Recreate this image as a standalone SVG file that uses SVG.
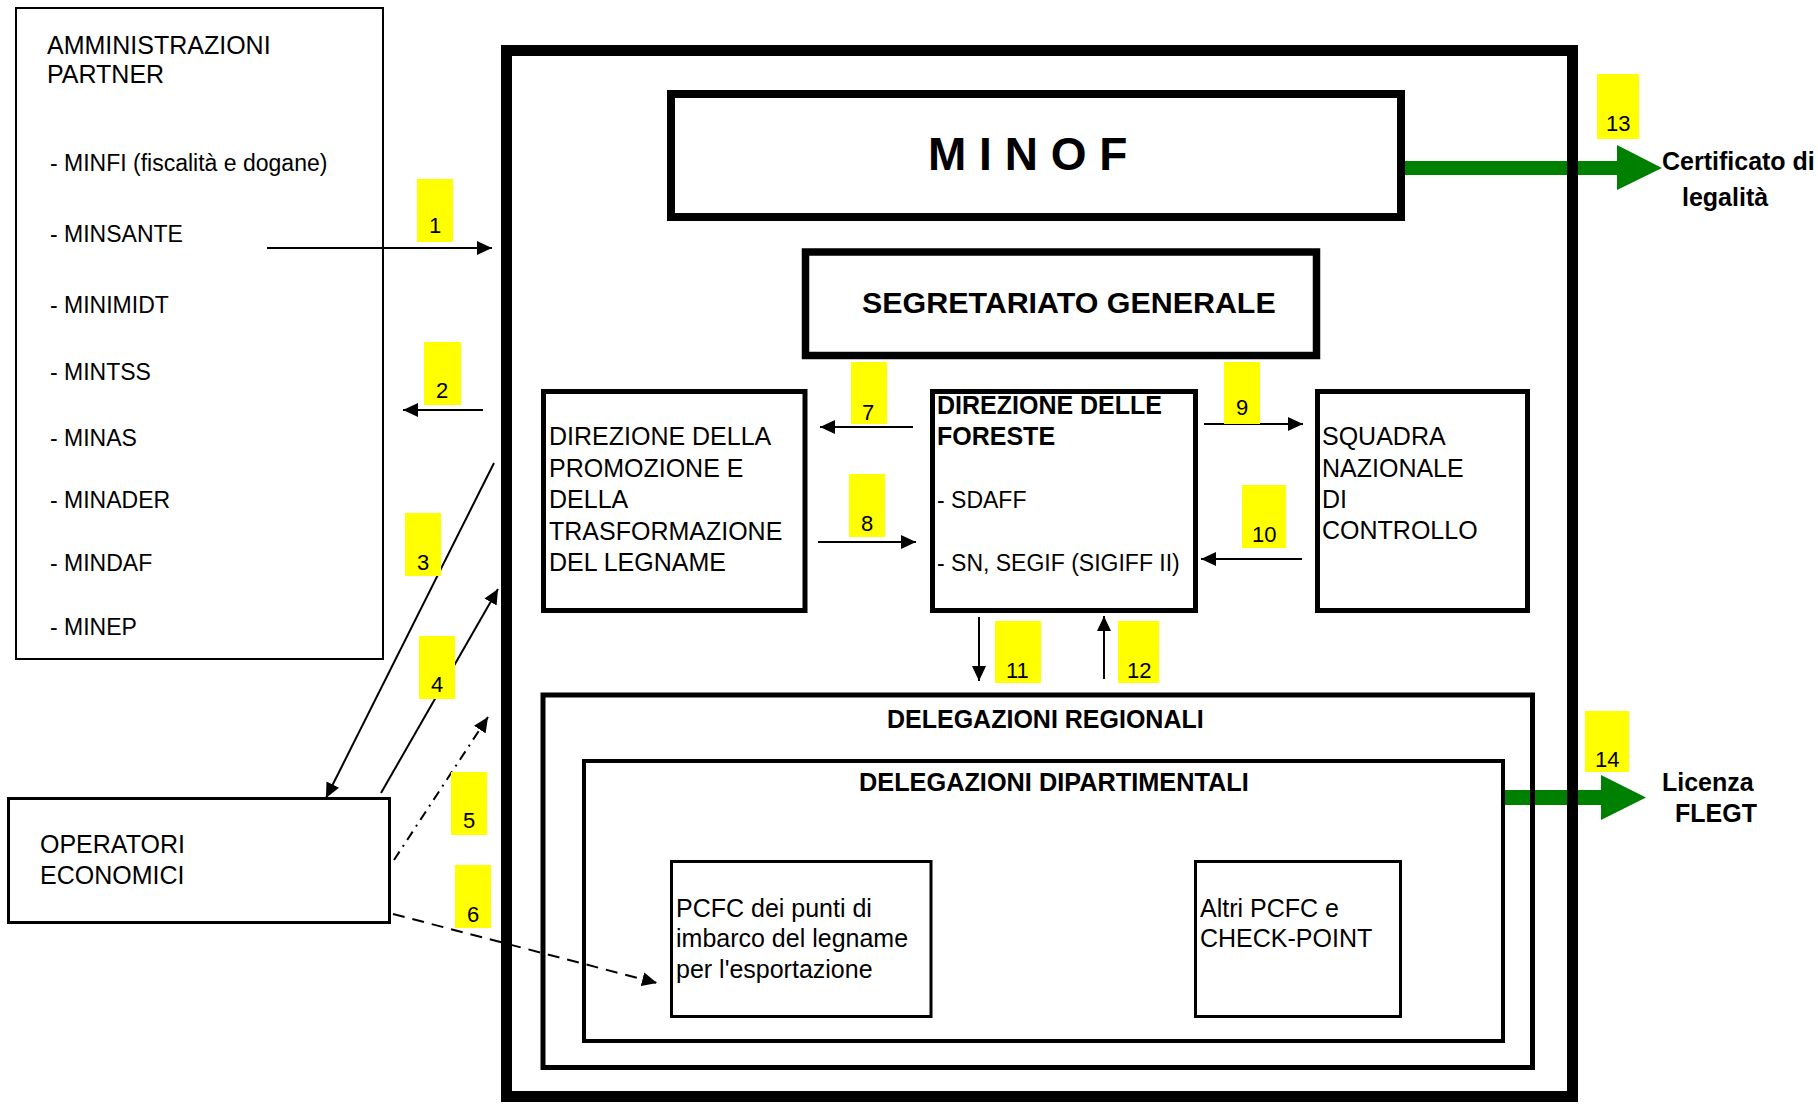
<svg xmlns="http://www.w3.org/2000/svg" width="1818" height="1105" viewBox="0 0 1818 1105">
<defs>
<style>
text{font-family:"Liberation Sans",Arial,sans-serif;fill:#000;}
.t{font-size:25px;}
.s{font-size:23px;}
.b{font-size:25px;font-weight:bold;}
.n{font-size:22px;}
.ln{stroke:#000;stroke-width:2;fill:none;}
.box{fill:none;stroke:#000;}
.lab{fill:#ffff00;}
.green{fill:#008000;}
</style>
<marker id="ah" markerUnits="userSpaceOnUse" markerWidth="15" markerHeight="14" refX="15" refY="7" orient="auto">
<path d="M0,0 L15,7 L0,14 z" fill="#000"/>
</marker>
</defs>
<rect x="0" y="0" width="1818" height="1105" fill="#fff"/>

<g id="connectors">
<path class="green" d="M1405,161 H1617 V145 L1662,168 L1617,190 V175 H1405 z"/>
<path class="green" d="M1503,790 H1601 V775 L1646,797.5 L1601,820 V805 H1503 z"/>
<line class="ln" x1="267" y1="248" x2="492" y2="248" marker-end="url(#ah)"/>
<line class="ln" x1="483" y1="410" x2="403" y2="410" marker-end="url(#ah)"/>
<line class="ln" x1="494" y1="463" x2="326" y2="798" marker-end="url(#ah)"/>
<line class="ln" x1="381" y1="793" x2="498" y2="589" marker-end="url(#ah)"/>
<line class="ln" x1="394" y1="860" x2="488" y2="717" stroke-dasharray="10,6,2,6" marker-end="url(#ah)"/>
<line class="ln" x1="393" y1="914" x2="657" y2="983" stroke-dasharray="12,8" marker-end="url(#ah)"/>
<line class="ln" x1="913" y1="427" x2="820" y2="427" marker-end="url(#ah)"/>
<line class="ln" x1="818" y1="542" x2="916" y2="542" marker-end="url(#ah)"/>
<line class="ln" x1="1204" y1="424" x2="1303" y2="424" marker-end="url(#ah)"/>
<line class="ln" x1="1302" y1="559" x2="1201" y2="559" marker-end="url(#ah)"/>
<line class="ln" x1="979" y1="617" x2="979" y2="681" marker-end="url(#ah)"/>
<line class="ln" x1="1104" y1="679" x2="1104" y2="616" marker-end="url(#ah)"/>
<g id="labels">
<rect class="lab" x="417" y="179" width="36" height="63"/><text class="n" x="429" y="233">1</text>
<rect class="lab" x="424" y="342" width="37" height="63"/><text class="n" x="436" y="398">2</text>
<rect class="lab" x="405" y="513" width="36" height="63"/><text class="n" x="417" y="570">3</text>
<rect class="lab" x="419" y="636" width="36" height="63"/><text class="n" x="431" y="692">4</text>
<rect class="lab" x="451" y="772" width="36" height="63"/><text class="n" x="463" y="828">5</text>
<rect class="lab" x="455" y="865" width="36" height="63"/><text class="n" x="467" y="922">6</text>
<rect class="lab" x="851" y="362" width="36" height="62"/><text class="n" x="862" y="420">7</text>
<rect class="lab" x="849" y="474" width="36" height="63"/><text class="n" x="861" y="531">8</text>
<rect class="lab" x="1224" y="362" width="36" height="62"/><text class="n" x="1236" y="415">9</text>
<rect class="lab" x="1242" y="485" width="44" height="63"/><text class="n" x="1252" y="542">10</text>
<rect class="lab" x="995" y="621" width="46" height="62"/><text class="n" x="1006" y="678">11</text>
<rect class="lab" x="1118" y="621" width="41" height="62"/><text class="n" x="1127" y="678">12</text>
<rect class="lab" x="1597" y="74" width="42" height="65"/><text class="n" x="1606" y="131">13</text>
<rect class="lab" x="1585" y="711" width="44" height="61"/><text class="n" x="1595" y="767">14</text>
</g>
</g>

<g id="amministrazioni">
<rect class="box" x="16" y="8" width="367" height="651" stroke-width="2"/>
<text class="t" x="47" y="54">AMMINISTRAZIONI</text>
<text class="t" x="47" y="83">PARTNER</text>
<text class="s" x="50" y="171">- MINFI (fiscalità e dogane)</text>
<text class="s" x="50" y="242">- MINSANTE</text>
<text class="s" x="50" y="313">- MINIMIDT</text>
<text class="s" x="50" y="380">- MINTSS</text>
<text class="s" x="50" y="446">- MINAS</text>
<text class="s" x="50" y="508">- MINADER</text>
<text class="s" x="50" y="571">- MINDAF</text>
<text class="s" x="50" y="635">- MINEP</text>
</g>

<g id="operatori">
<rect class="box" x="8.5" y="798.5" width="381" height="124" stroke-width="3"/>
<text class="t" x="40" y="853">OPERATORI</text>
<text class="t" x="40" y="884">ECONOMICI</text>
</g>

<g id="frame">
<rect class="box" x="506.5" y="50.5" width="1066" height="1046" stroke-width="11"/>
</g>

<g id="minof">
<rect class="box" x="671" y="94" width="730" height="123" stroke-width="8"/>
<text x="928" y="170" style="font-size:46px;font-weight:bold">M I N O F</text>
</g>

<g id="segretariato">
<rect class="box" x="805.5" y="252" width="511" height="103.5" stroke-width="7.5"/>
<text x="862" y="313" style="font-size:30.4px;font-weight:bold">SEGRETARIATO GENERALE</text>
</g>

<g id="direzione-promozione">
<rect class="box" x="543.5" y="391.5" width="261.5" height="219" stroke-width="5"/>
<text class="t" x="549" y="445">DIREZIONE DELLA</text>
<text class="t" x="549" y="477">PROMOZIONE E</text>
<text class="t" x="549" y="508">DELLA</text>
<text class="t" x="549" y="540">TRASFORMAZIONE</text>
<text class="t" x="549" y="571">DEL LEGNAME</text>
</g>

<g id="direzione-foreste">
<rect class="box" x="932.5" y="391.5" width="263" height="219" stroke-width="5"/>
<text class="b" x="937" y="414">DIREZIONE DELLE</text>
<text class="b" x="937" y="445">FORESTE</text>
<text class="s" x="937" y="508">- SDAFF</text>
<text class="s" x="937" y="571">- SN, SEGIF (SIGIFF II)</text>
</g>

<g id="squadra">
<rect class="box" x="1317.5" y="391.5" width="210" height="219" stroke-width="5"/>
<text class="t" x="1322" y="445">SQUADRA</text>
<text class="t" x="1322" y="477">NAZIONALE</text>
<text class="t" x="1322" y="508">DI</text>
<text class="t" x="1322" y="539">CONTROLLO</text>
</g>

<g id="delegazioni-regionali">
<rect class="box" x="543" y="695" width="989.5" height="372.5" stroke-width="5"/>
<text class="b" x="887" y="728">DELEGAZIONI REGIONALI</text>
</g>

<g id="delegazioni-dipartimentali">
<rect class="box" x="584" y="761" width="919" height="280" stroke-width="4"/>
<text x="859" y="791" style="font-size:25.3px;font-weight:bold">DELEGAZIONI DIPARTIMENTALI</text>
</g>

<g id="pcfc-imbarco">
<rect class="box" x="671.5" y="861.5" width="259.5" height="155" stroke-width="3"/>
<text class="t" x="676" y="917">PCFC dei punti di</text>
<text class="t" x="676" y="947">imbarco del legname</text>
<text class="t" x="676" y="978">per l'esportazione</text>
</g>

<g id="altri-pcfc">
<rect class="box" x="1195.5" y="861.5" width="205" height="155" stroke-width="3"/>
<text class="t" x="1200" y="917">Altri PCFC e</text>
<text class="t" x="1200" y="947">CHECK-POINT</text>
</g>

<g id="outputs">
<text class="b" x="1662" y="170">Certificato di</text>
<text class="b" x="1682" y="206">legalità</text>
<text class="b" x="1662" y="791">Licenza</text>
<text class="b" x="1675" y="822">FLEGT</text>
</g>
</svg>
